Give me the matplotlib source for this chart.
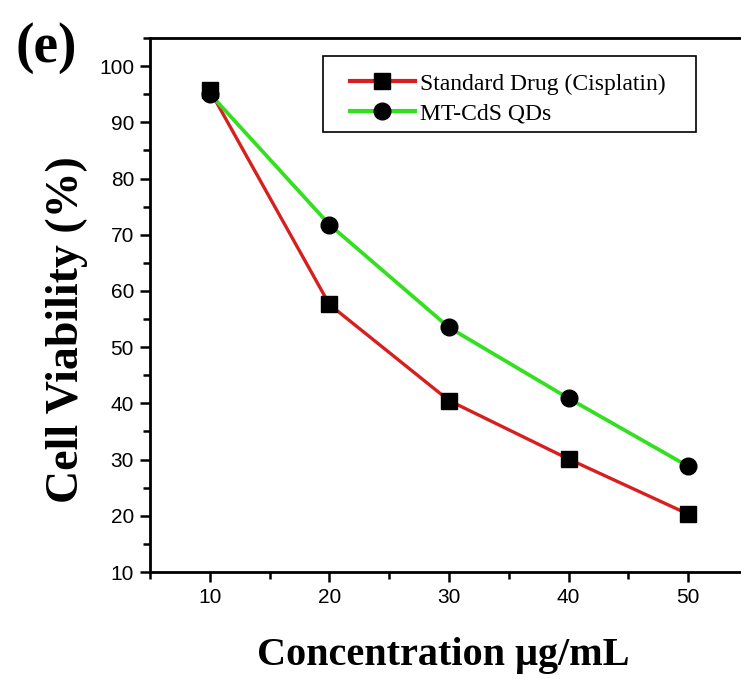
import matplotlib
matplotlib.use("Agg")
import matplotlib.pyplot as plt
from matplotlib.ticker import MultipleLocator
from matplotlib.patches import Rectangle

concentration = [10, 20, 30, 40, 50]
cisplatin = [95.7, 57.6, 40.5, 30.1, 20.3]
mt_cds = [95.1, 71.8, 53.5, 40.9, 28.8]
series_labels = ["Standard Drug (Cisplatin)", "MT-CdS QDs"]

W, H = 741, 679
fig = plt.figure(figsize=(W / 100, H / 100), dpi=100)
ax = fig.add_axes([150 / W, (H - 572) / H, 598 / W, 534 / H])

ax.plot(concentration, cisplatin, color="#d81f1f", lw=2.4, marker="s", ms=11,
        mfc="black", mec="black", label=series_labels[0], zorder=3)
ax.plot(concentration, mt_cds, color="#33e020", lw=2.7, marker="o", ms=12,
        mfc="black", mec="black", label=series_labels[1], zorder=4)

ax.set_xlim(5, 55)
ax.set_ylim(10, 105)
ax.xaxis.set_major_locator(MultipleLocator(10))
ax.xaxis.set_minor_locator(MultipleLocator(5))
ax.yaxis.set_major_locator(MultipleLocator(10))
ax.yaxis.set_minor_locator(MultipleLocator(5))
ax.tick_params(which="major", direction="out", length=7.5, width=1.8,
               labelsize=15, pad=4)
ax.tick_params(which="minor", direction="out", length=5, width=1.8)
for lab in ax.get_xticklabels() + ax.get_yticklabels():
    lab.set_fontfamily("Liberation Sans")
for s in ax.spines.values():
    s.set_linewidth(2)

ax.set_xlabel("Concentration μg/mL", fontfamily="Liberation Serif",
              fontweight="bold", fontsize=29, va="baseline")
ax.xaxis.set_label_coords(443 / W, 1 - 665 / H, transform=fig.transFigure)
ax.set_ylabel("Cell Viability (%)", fontfamily="Liberation Serif",
              fontweight="bold", fontsize=33, va="baseline")
ax.yaxis.set_label_coords(78 / W, 1 - 330 / H, transform=fig.transFigure)

# legend frame
frame = Rectangle((323 / W, 1 - 132 / H), (696 - 323) / W, (132 - 56) / H,
                  transform=fig.transFigure, facecolor="white",
                  edgecolor="black", lw=1.2, zorder=5, clip_on=False)
ax.add_artist(frame)
leg = ax.legend(loc="upper left", bbox_to_anchor=(350 / W, 1 - 73 / H),
                bbox_transform=fig.transFigure,
                prop={"family": "Liberation Serif", "size": 17},
                frameon=False, handlelength=2.75, handletextpad=0.2,
                borderpad=0, labelspacing=0.36, borderaxespad=0)
leg.set_zorder(6)
for h in leg.get_lines():
    h.set_linewidth(3)

fig.text(15 / W, 1 - 48 / H, "(e)", fontfamily="Liberation Serif",
         fontweight="bold", fontsize=40, va="center", ha="left")

fig.savefig("out.png", dpi=100)
